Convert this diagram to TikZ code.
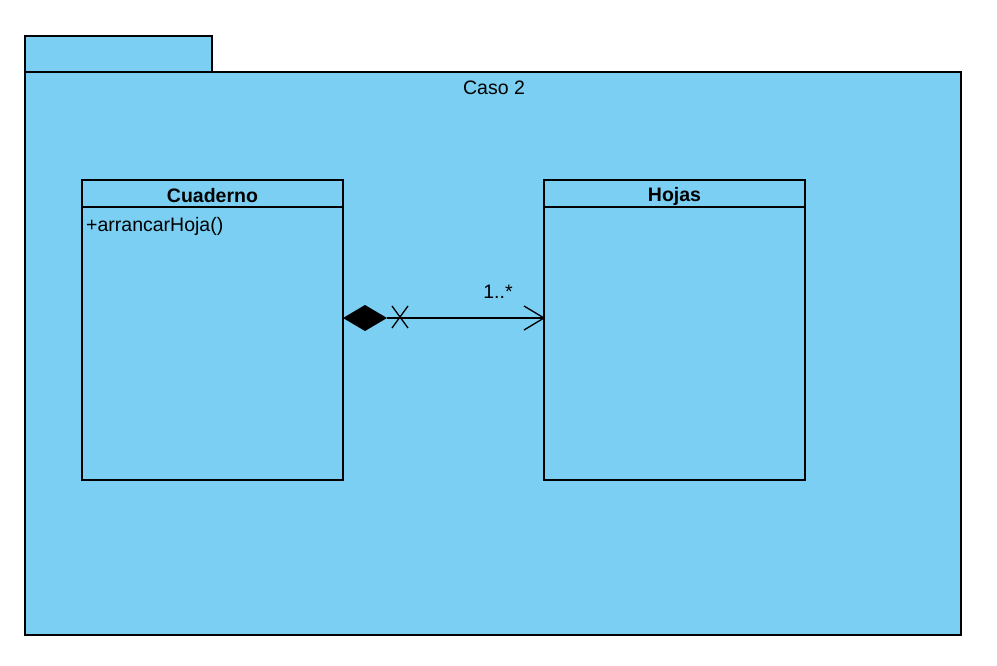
\documentclass[tikz,border=0pt]{standalone}
\usepackage{fontspec}
\setmainfont{Liberation Sans}
\definecolor{pkgblue}{RGB}{122,207,243}
\begin{document}
\begin{tikzpicture}[x=1pt,y=-1pt,
  box/.style={draw=black,line width=1.3pt,fill=pkgblue},
  ln/.style={draw=black,line width=1.3pt},
  txt/.style={font=\fontsize{19.5}{22}\selectfont,inner sep=0pt}]
\useasboundingbox (0,0) rectangle (997,666);
\fill[white] (0,0) rectangle (997,666);
% package
\draw[box] (25,36) rectangle (212,72);
\draw[box] (25,72) rectangle (961,635);
\node[txt] (caso) at (494,88) {Caso 2};
% Cuaderno
\draw[box] (82,180) rectangle (343,480);
\draw[ln] (82,207) -- (343,207);
\node[txt,font=\fontsize{19.5}{22}\selectfont\bfseries] (cuaderno) at (212.5,196) {Cuaderno};
\node[txt,anchor=west] (op) at (86,226) {+arrancarHoja()};
\coordinate (cR) at (343,318);
% Hojas
\draw[box] (544,180) rectangle (805,480);
\draw[ln] (544,207) -- (805,207);
\node[txt,font=\fontsize{19.5}{22}\selectfont\bfseries] (hojas) at (674.5,196) {Hojas};
\coordinate (hL) at (544,318);
% connector
\coordinate (dEnd) at (387,318);
\draw[ln] (dEnd) -- (hL);
\fill[black] (cR) -- (365,305) -- (dEnd) -- (365,331) -- cycle;
\draw[ln] (392,306) -- (408,328);
\draw[ln] (392,328) -- (408,306);
\draw[ln] (524,306) -- (hL) -- (524,330);
\node[txt] (mult) at (498,292) {1..*};
\end{tikzpicture}
\end{document}
